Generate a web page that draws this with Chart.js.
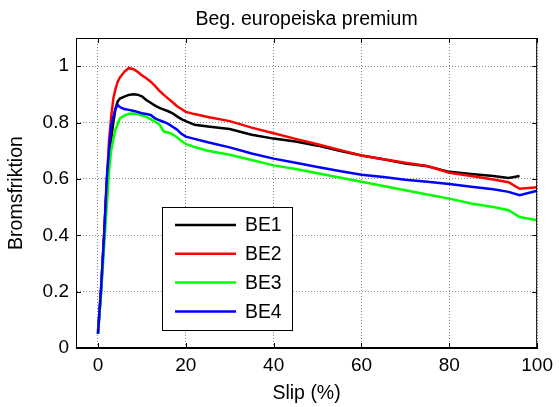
<!DOCTYPE html>
<html>
<head>
<meta charset="utf-8">
<script src="https://cdn.jsdelivr.net/npm/chart.js@4"></script>
<style>
  html, body { margin: 0; padding: 0; background: #fff; }
  #wrap { width: 559px; height: 407px; }
</style>
</head>
<body>
<div id="wrap"><canvas id="brakeChart"></canvas></div>
<script>
// Slip values (%) shared by all four series
const slip = [0, 0.7, 1.4, 2, 2.5, 3, 3.5, 4, 4.5, 5, 6, 7, 8, 9, 10, 11, 12, 13, 14, 15,
  16, 17, 18, 19, 20, 22, 25, 30, 35, 40, 45, 50, 55, 60, 65, 70, 75, 80, 85, 90, 93.5, 96, 100];

const be1 = [0.05, 0.20, 0.40, 0.58, 0.68, 0.74, 0.80, 0.85, 0.875, 0.885, 0.892, 0.898, 0.900, 0.899, 0.893, 0.880, 0.870, 0.860, 0.852, 0.846,
  0.840, 0.833, 0.822, 0.812, 0.805, 0.792, 0.786, 0.777, 0.757, 0.743, 0.733, 0.718, 0.700, 0.683, 0.670, 0.655, 0.645, 0.625, 0.617, 0.610, 0.603, 0.610, null];
const be2 = [0.06, 0.21, 0.40, 0.58, 0.73, 0.82, 0.885, 0.920, 0.945, 0.960, 0.980, 0.993, 0.990, 0.980, 0.968, 0.957, 0.945, 0.930, 0.912, 0.898,
  0.885, 0.872, 0.858, 0.848, 0.838, 0.830, 0.820, 0.805, 0.782, 0.762, 0.742, 0.723, 0.703, 0.683, 0.670, 0.657, 0.646, 0.622, 0.610, 0.598, 0.588, 0.565, 0.570];
const be3 = [0.05, 0.19, 0.36, 0.50, 0.62, 0.70, 0.74, 0.775, 0.795, 0.815, 0.825, 0.831, 0.832, 0.830, 0.825, 0.820, 0.812, 0.803, 0.793, 0.768,
  0.765, 0.758, 0.748, 0.735, 0.724, 0.713, 0.700, 0.686, 0.667, 0.648, 0.635, 0.620, 0.605, 0.590, 0.575, 0.560, 0.545, 0.530, 0.513, 0.500, 0.489, 0.465, 0.453];
const be4 = [0.05, 0.21, 0.40, 0.60, 0.70, 0.79, 0.82, 0.85, 0.862, 0.855, 0.848, 0.845, 0.842, 0.838, 0.833, 0.830, 0.827, 0.815, 0.808, 0.802,
  0.795, 0.785, 0.775, 0.760, 0.750, 0.742, 0.730, 0.712, 0.690, 0.672, 0.657, 0.642, 0.628, 0.615, 0.607, 0.597, 0.590, 0.582, 0.572, 0.563, 0.554, 0.542, 0.558];

const seriesNames = ['BE1', 'BE2', 'BE3', 'BE4'];
const seriesColors = ['#000000', '#ff0000', '#00ff00', '#0000ff'];
const xTicks = [0, 20, 40, 60, 80, 100];
const yTicks = [0, 0.2, 0.4, 0.6, 0.8, 1];
const chartTitle = 'Beg. europeiska premium';

const FONT = "'Liberation Sans', Arial, sans-serif";
Chart.defaults.font.family = FONT;
Chart.defaults.color = '#000';

function toPoints(ys) {
  return slip.map((x, i) => ({ x: x, y: ys[i] }));
}

// title over the plot box, box frame, inward tick marks on all four sides, legend box
const matlabAxes = {
  id: 'matlabAxes',
  afterDatasetsDraw(chart) {
    const { ctx, chartArea: a, scales: { x, y } } = chart;
    ctx.save();
    ctx.fillStyle = '#000';
    ctx.font = '19.5px ' + FONT;
    ctx.textAlign = 'center';
    ctx.textBaseline = 'middle';
    ctx.fillText(chartTitle, (a.left + a.right) / 2, 20);

    ctx.strokeStyle = '#000';
    ctx.lineWidth = 1;
    ctx.strokeRect(a.left + 0.5, a.top + 0.5, a.right - a.left - 1, a.bottom - a.top - 1);
    const tl = 5;
    ctx.beginPath();
    xTicks.forEach(v => {
      const px = Math.round(x.getPixelForValue(v)) + 0.5;
      ctx.moveTo(px, a.bottom); ctx.lineTo(px, a.bottom - tl);
      ctx.moveTo(px, a.top); ctx.lineTo(px, a.top + tl);
    });
    yTicks.forEach(v => {
      const py = Math.round(y.getPixelForValue(v)) + 0.5;
      ctx.moveTo(a.left, py); ctx.lineTo(a.left + tl, py);
      ctx.moveTo(a.right, py); ctx.lineTo(a.right - tl, py);
    });
    ctx.stroke();

    // legend
    const bx = 162, by = 207, bw = 130, bh = 123;
    ctx.fillStyle = '#fff';
    ctx.fillRect(bx, by, bw, bh);
    ctx.strokeRect(bx + 0.5, by + 0.5, bw, bh);
    ctx.font = '19.4px ' + FONT;
    ctx.textBaseline = 'middle';
    ctx.textAlign = 'left';
    chart.data.datasets.forEach((ds, i) => {
      const ly = by + 18 + 28.8 * i;
      ctx.strokeStyle = ds.borderColor;
      ctx.lineWidth = 2.5;
      ctx.beginPath();
      ctx.moveTo(bx + 13, ly); ctx.lineTo(bx + 74, ly);
      ctx.stroke();
      ctx.fillStyle = '#000';
      ctx.fillText(ds.label, bx + 83, ly + 1);
    });
    ctx.restore();
  }
};

new Chart(document.getElementById('brakeChart'), {
  type: 'line',
  data: {
    datasets: [be1, be2, be3, be4].map((ys, i) => ({
      label: seriesNames[i],
      data: toPoints(ys),
      borderColor: seriesColors[i],
      backgroundColor: seriesColors[i],
      borderWidth: 2.5,
      pointRadius: 0,
      tension: 0,
      order: 4 - i
    }))
  },
  options: {
    responsive: true,
    maintainAspectRatio: false,
    animation: false,
    layout: { padding: { left: 0, right: 19, top: 38, bottom: 0 } },
    plugins: {
      legend: { display: false },
      tooltip: { enabled: false },
      title: { display: false }
    },
    scales: {
      x: {
        type: 'linear',
        min: -5, max: 100,
        afterBuildTicks: s => { s.ticks = xTicks.map(v => ({ value: v })); },
        afterFit: s => { s.height = 59; },
        ticks: { font: { size: 19 }, padding: 6, maxRotation: 0 },
        grid: { color: '#8a8a8a', lineWidth: 1, drawTicks: false },
        border: { display: true, color: '#000', dash: [1, 2] },
        title: { display: true, text: 'Slip (%)', font: { size: 19.5 }, padding: { top: 0, bottom: 2 } }
      },
      y: {
        min: 0, max: 1.1,
        afterBuildTicks: s => { s.ticks = yTicks.map(v => ({ value: v })); },
        afterFit: s => { s.width = 76; },
        ticks: { font: { size: 19 }, padding: 7, callback: v => String(+v.toFixed(1)) },
        grid: { color: '#8a8a8a', lineWidth: 1, drawTicks: false },
        border: { display: true, color: '#000', dash: [1, 2] },
        title: { display: true, text: 'Bromsfriktion', font: { size: 19.5 }, padding: { top: 5, bottom: 0 } }
      }
    }
  },
  plugins: [matlabAxes]
});
</script>
</body>
</html>
